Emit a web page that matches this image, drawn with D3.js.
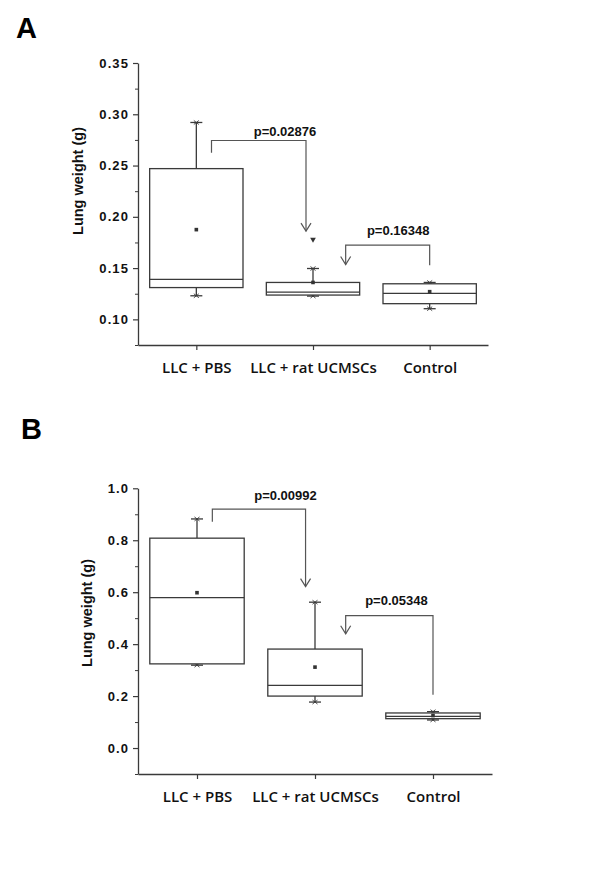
<!DOCTYPE html>
<html lang="en">
<head>
  <meta charset="utf-8">
  <title>Lung weight</title>
  <script src="https://cdnjs.cloudflare.com/ajax/libs/d3/7.8.5/d3.min.js"></script>
  <style>
    body { margin: 0; background: #fff; }
  </style>
</head>
<body>
<div id="ChartArea"></div>

<script>
// categories on the x axis
const categories = ["LLC + PBS", "LLC + rat UCMSCs", "Control"];

// panel A (g)
const a_low    = [0.123, 0.1227, 0.1104];
const a_q1     = [0.131, 0.1237, 0.1153];
const a_median = [0.139, 0.1266, 0.1253];
const a_q3     = [0.247, 0.136, 0.1347];
const a_high   = [0.292, 0.1496, 0.136];
const a_mean   = [0.1875, 0.136, 0.127];
const a_outliers = [[], [0.178], []];
const a_ticks  = [0.10, 0.15, 0.20, 0.25, 0.30, 0.35];
const a_minor  = [0.075, 0.125, 0.175, 0.225, 0.275, 0.325];
const a_pvals  = ["p=0.02876", "p=0.16348"];

// panel B (g)
const b_low    = [0.319, 0.177, 0.108];
const b_q1     = [0.324, 0.200, 0.113];
const b_median = [0.579, 0.241, 0.122];
const b_q3     = [0.808, 0.381, 0.135];
const b_high   = [0.882, 0.5615, 0.140];
const b_mean   = [0.598, 0.3115, 0.125];
const b_outliers = [[], [], []];
const b_ticks  = [0.0, 0.2, 0.4, 0.6, 0.8, 1.0];
const b_minor  = [-0.1, 0.1, 0.3, 0.5, 0.7, 0.9];
const b_pvals  = ["p=0.00992", "p=0.05348"];

const lineColor = "#3a3a3a";
const textColor = "#111";
const arial = "Liberation Sans, Arial, sans-serif";

const svg = d3.select("#ChartArea").append("svg")
    .attr("width", 600)
    .attr("height", 879);

function draw_panel(p) {
  const g = svg.append("g");

  const x = d3.scaleLinear().domain([0.5, 3.5]).range(p.xRange);
  const y = d3.scaleLinear().domain(p.yDomain).range(p.yRange);

  // panel letter
  g.append("text")
    .attr("x", p.letterPos[0]).attr("y", p.letterPos[1])
    .attr("font-family", arial)
    .attr("font-weight", "bold").attr("font-size", 29)
    .attr("fill", "#000")
    .text(p.letter);

  // minor ticks on y
  g.append("g")
    .attr("transform", "translate(" + p.xRange[0] + ",0)")
    .call(d3.axisLeft(y).tickValues(p.minor).tickSize(3).tickSizeOuter(0).tickFormat(""))
    .call(s => s.select(".domain").remove())
    .selectAll("line").attr("stroke", lineColor);

  // y axis
  const yAxis = g.append("g")
    .attr("transform", "translate(" + p.xRange[0] + ",0)")
    .call(d3.axisLeft(y).tickValues(p.ticks).tickSize(5).tickSizeOuter(0)
      .tickPadding(4).tickFormat(d3.format(p.fmt)));
  yAxis.select(".domain").attr("stroke", lineColor).attr("stroke-width", 1.3);
  yAxis.selectAll(".tick line").attr("stroke", lineColor).attr("stroke-width", 1.2);
  yAxis.selectAll(".tick text")
    .attr("font-family", arial)
    .attr("font-size", 13).attr("font-weight", "bold")
    .attr("letter-spacing", "1.1px").attr("fill", textColor);

  // x axis
  const xAxis = g.append("g")
    .attr("transform", "translate(0," + p.yRange[0] + ")")
    .call(d3.axisBottom(x).tickValues([1, 2, 3]).tickSize(5).tickSizeOuter(0)
      .tickPadding(12).tickFormat(function(d) { return categories[d - 1]; }));
  xAxis.select(".domain").attr("stroke", lineColor).attr("stroke-width", 1.3);
  xAxis.selectAll(".tick line").attr("stroke", lineColor).attr("stroke-width", 1.2);
  xAxis.selectAll(".tick text")
    .attr("font-family", "Open Sans, sans-serif")
    .attr("font-size", 15).attr("font-weight", 600).attr("fill", textColor);

  // y label
  g.append("text")
    .attr("transform", "translate(" + p.labelPos[0] + "," + p.labelPos[1] + ") rotate(-90)")
    .attr("text-anchor", "middle")
    .attr("dominant-baseline", "central")
    .attr("font-family", arial)
    .attr("font-weight", "bold").attr("font-size", 14.5)
    .attr("fill", textColor)
    .text("Lung weight (g)");

  // box data
  const data = categories.map(function(c, i) {
    return { i: i + 1, low: p.low[i], q1: p.q1[i], med: p.median[i], q3: p.q3[i],
             high: p.high[i], mean: p.mean[i], out: p.outliers[i] };
  });
  const half = (x(1.4) - x(1)); // box half width
  const cap = 6;

  const boxes = g.selectAll(".box").data(data).enter().append("g")
    .attr("class", "box")
    .attr("stroke", lineColor).attr("stroke-width", 1.3).attr("fill", "none");

  // whiskers
  boxes.append("line")
    .attr("x1", d => x(d.i)).attr("x2", d => x(d.i))
    .attr("y1", d => y(d.q3)).attr("y2", d => y(d.high));
  boxes.append("line")
    .attr("x1", d => x(d.i)).attr("x2", d => x(d.i))
    .attr("y1", d => y(d.q1)).attr("y2", d => y(d.low));
  boxes.append("line")
    .attr("x1", d => x(d.i) - cap).attr("x2", d => x(d.i) + cap)
    .attr("y1", d => y(d.high)).attr("y2", d => y(d.high));
  boxes.append("line")
    .attr("x1", d => x(d.i) - cap).attr("x2", d => x(d.i) + cap)
    .attr("y1", d => y(d.low)).attr("y2", d => y(d.low));
  // small x marks on min / max
  ["high", "low"].forEach(function(k) {
    boxes.append("path")
      .attr("stroke-width", 0.9)
      .attr("d", function(d) {
        const cx = x(d.i), cy = y(d[k]);
        return "M" + (cx - 2.5) + "," + (cy - 2) + "L" + (cx + 2.5) + "," + (cy + 2) +
               "M" + (cx - 2.5) + "," + (cy + 2) + "L" + (cx + 2.5) + "," + (cy - 2);
      });
  });

  // box
  boxes.append("rect")
    .attr("x", d => x(d.i) - half)
    .attr("width", half * 2)
    .attr("y", d => y(d.q3))
    .attr("height", d => y(d.q1) - y(d.q3))
    .attr("fill", "#fff");
  // median
  boxes.append("line")
    .attr("x1", d => x(d.i) - half).attr("x2", d => x(d.i) + half)
    .attr("y1", d => y(d.med)).attr("y2", d => y(d.med));
  // mean
  boxes.append("rect")
    .attr("x", d => x(d.i) - 1.8).attr("y", d => y(d.mean) - 1.8)
    .attr("width", 3.6).attr("height", 3.6)
    .attr("stroke", "none").attr("fill", "#333");
  // outliers
  boxes.selectAll(".out").data(d => d.out.map(v => ({ i: d.i, v: v }))).enter()
    .append("path")
    .attr("class", "out")
    .attr("stroke", "none").attr("fill", "#333")
    .attr("d", d3.symbol().type(d3.symbolTriangle).size(14))
    .attr("transform", d => "translate(" + x(d.i) + "," + y(d.v) + ") rotate(180)");

  // p-value brackets
  p.brackets.forEach(function(b, k) {
    const path = d3.path();
    path.moveTo(x(b.x1), y(b.y1));
    path.lineTo(x(b.x1), y(b.yh));
    path.lineTo(x(b.x2), y(b.yh));
    path.lineTo(x(b.x2), y(b.y2));
    g.append("path")
      .attr("d", path.toString())
      .attr("fill", "none").attr("stroke", "#555").attr("stroke-width", 1.2);

    // open arrow head
    const ax = x(b.arrowAt === 1 ? b.x1 : b.x2);
    const ay = y(b.arrowAt === 1 ? b.y1 : b.y2);
    g.append("path")
      .attr("d", "M" + (ax - 5) + "," + (ay - 8) + "L" + ax + "," + ay + "L" + (ax + 5) + "," + (ay - 8))
      .attr("fill", "none").attr("stroke", "#555").attr("stroke-width", 1.2);

    g.append("text")
      .attr("x", x(b.tx)).attr("y", y(b.ty))
      .attr("text-anchor", "middle")
      .attr("font-family", arial)
      .attr("font-weight", "bold").attr("font-size", 13)
      .attr("fill", textColor)
      .text(p.pvals[k]);
  });
}

draw_panel({
  letter: "A", letterPos: [16, 38],
  xRange: [138, 488], yDomain: [0.075, 0.35], yRange: [345, 63],
  ticks: a_ticks, minor: a_minor, fmt: ".2f", labelPos: [78, 181],
  low: a_low, q1: a_q1, median: a_median, q3: a_q3, high: a_high, mean: a_mean,
  outliers: a_outliers, pvals: a_pvals,
  brackets: [
    { x1: 1.13, y1: 0.2625, yh: 0.2744, x2: 1.94, y2: 0.186, arrowAt: 2, tx: 1.76, ty: 0.279 },
    { x1: 2.28, y1: 0.1535, yh: 0.1723, x2: 3.0, y2: 0.1528, arrowAt: 1, tx: 2.73, ty: 0.1818 }
  ]
});

draw_panel({
  letter: "B", letterPos: [21, 439],
  xRange: [138, 492], yDomain: [-0.1, 1.0], yRange: [774, 488.3],
  ticks: b_ticks, minor: b_minor, fmt: ".1f", labelPos: [87, 613],
  low: b_low, q1: b_q1, median: b_median, q3: b_q3, high: b_high, mean: b_mean,
  outliers: b_outliers, pvals: b_pvals,
  brackets: [
    { x1: 1.13, y1: 0.8715, yh: 0.920, x2: 1.92, y2: 0.6215, arrowAt: 2, tx: 1.75, ty: 0.955 },
    { x1: 2.26, y1: 0.44, yh: 0.51, x2: 3.0, y2: 0.205, arrowAt: 1, tx: 2.69, ty: 0.552 }
  ]
});
</script>
</body>
</html>
